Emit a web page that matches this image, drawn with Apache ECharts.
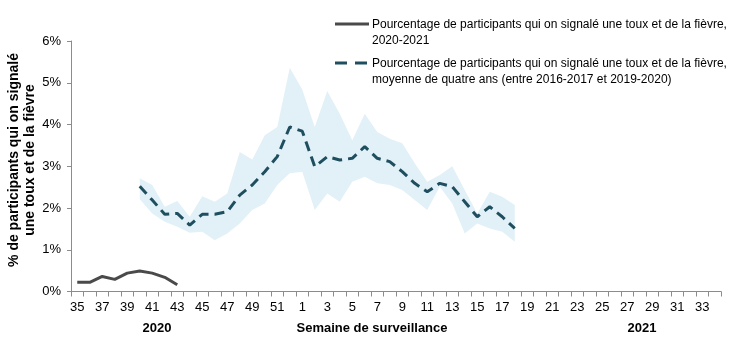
<!DOCTYPE html>
<html>
<head>
<meta charset="utf-8">
<script src="https://cdn.jsdelivr.net/npm/echarts@6/dist/echarts.min.js"></script>
<style>
  html, body { margin: 0; padding: 0; background: #fff; }
  #chart { width: 739px; height: 342px; }
</style>
</head>
<body>
<div id="chart"></div>
<script>
// Surveillance weeks: 35–52 of 2020, then 1–34 of 2021
const weeks = [
  '35','36','37','38','39','40','41','42','43','44','45','46','47','48','49','50','51','52',
  '1','2','3','4','5','6','7','8','9','10','11','12','13','14','15','16','17','18',
  '19','20','21','22','23','24','25','26','27','28','29','30','31','32','33','34'
];

// 2020-2021 season (% reporting cough and fever), weeks 35–43
const season2020 = [0.22, 0.22, 0.36, 0.29, 0.44, 0.49, 0.44, 0.34, 0.16];

// Four-season average, weeks 40–18
const avgWeeks = [
  '40','41','42','43','44','45','46','47','48','49','50','51','52',
  '1','2','3','4','5','6','7','8','9','10','11','12','13','14','15','16','17','18'
];
const avgValues = [
  2.52, 2.19, 1.85, 1.87, 1.59, 1.85, 1.85, 1.91, 2.31, 2.55, 2.87, 3.23, 3.94,
  3.84, 2.99, 3.23, 3.15, 3.19, 3.47, 3.19, 3.11, 2.87, 2.59, 2.39, 2.59, 2.51, 2.15, 1.79, 2.03, 1.79, 1.51
];
// Range across the four seasons (min / max)
const rangeLow = [
  2.21, 1.87, 1.67, 1.55, 1.41, 1.43, 1.23, 1.39, 1.63, 1.95, 2.11, 2.55, 2.83,
  2.87, 1.95, 2.35, 2.15, 2.63, 2.75, 2.59, 2.55, 2.43, 2.19, 1.95, 2.51, 2.11, 1.39, 1.63, 1.51, 1.43, 1.19
];
const rangeHigh = [
  2.71, 2.55, 2.03, 2.17, 1.79, 2.28, 2.15, 2.35, 3.34, 3.16, 3.74, 3.94, 5.36,
  4.84, 3.94, 4.80, 4.26, 3.62, 4.26, 3.82, 3.66, 3.55, 3.07, 2.63, 2.79, 3.00, 2.43, 1.87, 2.39, 2.27, 2.07
];

const legendLabels = [
  'Pourcentage de participants qui on signalé une toux et de la fièvre,\n2020-2021',
  'Pourcentage de participants qui on signalé une toux et de la fièvre,\nmoyenne de quatre ans (entre 2016-2017 et 2019-2020)'
];
const yAxisTitle = '% de participants qui on signalé\nune toux et de la fièvre';
const xAxisTitle = 'Semaine de surveillance';
const yearLabels = ['2020', '2021'];

// Align partial series onto the full week axis
function onAxis(keys, values) {
  const map = {};
  keys.forEach((k, i) => { map[k] = values[i]; });
  return weeks.map(w => (w in map ? map[w] : null));
}
const seasonFull = weeks.map((w, i) => (i < season2020.length ? season2020[i] : null));
const avgFull = onAxis(avgWeeks, avgValues);
const lowFull = onAxis(avgWeeks, rangeLow);
const spanFull = onAxis(avgWeeks, rangeHigh.map((h, i) => +(h - rangeLow[i]).toFixed(2)));

const FONT = '"Liberation Sans", Arial, sans-serif';
const AXIS_GREY = '#8c8c8c';
const AVG_COLOR = '#1f4f5e';
const SEASON_COLOR = '#4a4a4a';
const BAND_COLOR = '#e2f1f8';

const chart = echarts.init(document.getElementById('chart'), null, { renderer: 'canvas' });

chart.setOption({
  animation: false,
  backgroundColor: '#fff',
  grid: { left: 71, right: 18, top: 41, bottom: 50.5, containLabel: false },
  xAxis: {
    type: 'category',
    data: weeks,
    boundaryGap: true,
    axisLine: { lineStyle: { color: AXIS_GREY, width: 1 } },
    axisTick: { show: true, interval: 0, length: 5, lineStyle: { color: AXIS_GREY } },
    axisLabel: { interval: 1, color: '#000', fontFamily: FONT, fontSize: 13, margin: 9 },
    splitLine: { show: false }
  },
  yAxis: {
    type: 'value',
    min: 0, max: 6, interval: 1,
    axisLine: { show: true, lineStyle: { color: AXIS_GREY, width: 1 } },
    axisTick: { show: true, length: 4, lineStyle: { color: AXIS_GREY } },
    axisLabel: { formatter: '{value}%', color: '#000', fontFamily: FONT, fontSize: 13, margin: 10 },
    splitLine: { show: false }
  },
  series: [
    {
      name: 'low', type: 'line', data: lowFull, stack: 'range',
      symbol: 'none', lineStyle: { opacity: 0 }, silent: true, z: 1
    },
    {
      name: 'span', type: 'line', data: spanFull, stack: 'range',
      symbol: 'none', lineStyle: { opacity: 0 },
      areaStyle: { color: BAND_COLOR, opacity: 1 }, silent: true, z: 1
    },
    {
      name: legendLabels[1], type: 'line', data: avgFull,
      symbol: 'none', lineStyle: { color: AVG_COLOR, width: 3, type: [10, 6] }, z: 3
    },
    {
      name: legendLabels[0], type: 'line', data: seasonFull,
      symbol: 'none', lineStyle: { color: SEASON_COLOR, width: 3 }, z: 4
    }
  ],
  graphic: [
    // Legend
    { type: 'line', shape: { x1: 335, y1: 24, x2: 369, y2: 24 }, style: { stroke: SEASON_COLOR, lineWidth: 3 } },
    { type: 'text', left: 372, top: 17, style: { text: legendLabels[0], font: '12px ' + FONT, fill: '#000', lineHeight: 16 } },
    { type: 'line', shape: { x1: 335, y1: 63, x2: 369, y2: 63 }, style: { stroke: AVG_COLOR, lineWidth: 3, lineDash: [12, 8] } },
    { type: 'text', left: 372, top: 56, style: { text: legendLabels[1], font: '12px ' + FONT, fill: '#000', lineHeight: 16 } },
    // Axis titles
    {
      type: 'text', x: 22, y: 160, rotation: Math.PI / 2,
      style: { text: yAxisTitle, font: 'bold 14px ' + FONT, fill: '#000', align: 'center', verticalAlign: 'middle', lineHeight: 16 }
    },
    { type: 'text', x: 372, y: 328, style: { text: xAxisTitle, font: 'bold 13px ' + FONT, fill: '#000', align: 'center', verticalAlign: 'middle' } },
    { type: 'text', x: 157, y: 328, style: { text: yearLabels[0], font: 'bold 13px ' + FONT, fill: '#000', align: 'center', verticalAlign: 'middle' } },
    { type: 'text', x: 642, y: 328, style: { text: yearLabels[1], font: 'bold 13px ' + FONT, fill: '#000', align: 'center', verticalAlign: 'middle' } }
  ]
});
</script>
</body>
</html>
